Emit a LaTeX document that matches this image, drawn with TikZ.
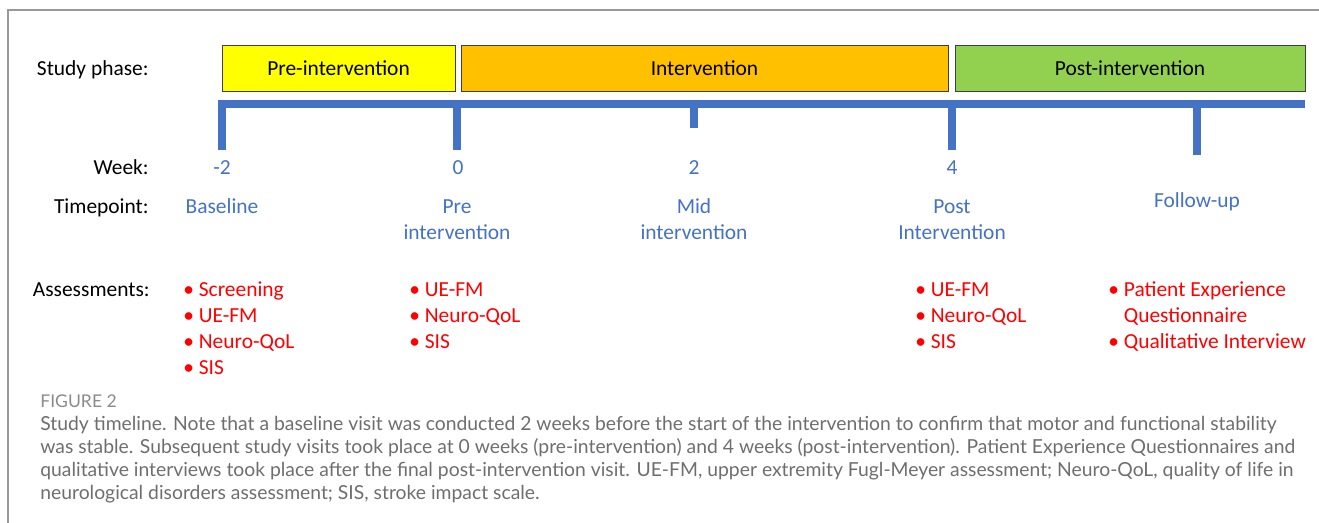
\documentclass[tikz,border=0pt]{standalone}
\usepackage{fontspec}
\setmainfont{Carlito}
\newfontfamily\capfont{Lato}
\definecolor{preyellow}{HTML}{FFFF00}
\definecolor{midorange}{HTML}{FFC000}
\definecolor{postgreen}{HTML}{92D050}
\definecolor{lineblue}{HTML}{4472C4}
\definecolor{listred}{HTML}{FF0000}
\definecolor{capgray}{HTML}{6E6E6E}
\tikzset{
  rowlab/.style={anchor=base east, inner sep=0pt, font=\fontsize{12.2}{14.8}\selectfont},
  phasebox/.style={draw=black!75, minimum height=0.92cm, inner sep=0pt, font=\fontsize{12.2}{14.8}\selectfont},
  axis/.style={lineblue, line width=4pt},
  weeklab/.style={anchor=base, inner sep=0pt, text=lineblue, font=\fontsize{12.2}{14.8}\selectfont},
  tplab/.style={weeklab, align=center},
  asslist/.style={anchor=base west, inner sep=0pt, align=left, text=listred, font=\fontsize{12.2}{14.8}\selectfont},
}
\begin{document}
\begin{tikzpicture}[x=0.02cm, y=-0.02cm]
\useasboundingbox (0,0) rectangle (1319,523);
% frame
\draw [black!40, line width=1pt] (8,523) -- (8,10) -- (1319,10);

% row labels
\node [rowlab] (phaselab) at (149,76) {Study phase:};
\node [rowlab] (weeklab) at (149,175) {Week:};
\node [rowlab] (tplab) at (149,214) {Timepoint:};
\node [rowlab] (asslab) at (150,297) {Assessments:};

% study phases
\node [phasebox, fill=preyellow, minimum width=4.66cm] (pre) at (338.5,68) {Pre-intervention};
\node [phasebox, fill=midorange, minimum width=9.74cm] (mid) at (704.5,68) {Intervention};
\node [phasebox, fill=postgreen, minimum width=7cm] (post) at (1130,68) {Post-intervention};

% timeline
\coordinate (barL) at (222,104);
\coordinate (barR) at (1305,104);
\draw [axis] (222,150) -- (barL) -- (barR);
\foreach \x/\y in {457/150, 694/128, 952/150, 1197/155}
  \draw [axis] (\x,104) -- (\x,\y);

% weeks
\node [weeklab] (wkA) at (222,175) {-2};
\node [weeklab] (wkB) at (458,175) {0};
\node [weeklab] (wkC) at (694,175) {2};
\node [weeklab] (wkD) at (952,175) {4};

% timepoints (base = last line)
\node [tplab] (tpA) at (222,214) {Baseline};
\node [tplab] (tpB) at (457,240) {Pre\\intervention};
\node [tplab] (tpC) at (694,240) {Mid\\intervention};
\node [tplab] (tpD) at (952,240) {Post\\Intervention};
\node [tplab] (tpE) at (1197,208) {Follow-up};

% assessments
\node [asslist] (asA) at (183,375) {\textbullet\ Screening\\\textbullet\ UE-FM\\\textbullet\ Neuro-QoL\\\textbullet\ SIS};
\node [asslist] (asB) at (409,349) {\textbullet\ UE-FM\\\textbullet\ Neuro-QoL\\\textbullet\ SIS};
\node [asslist] (asD) at (915,349) {\textbullet\ UE-FM\\\textbullet\ Neuro-QoL\\\textbullet\ SIS};
\node [asslist] (asE) at (1108,349) {\textbullet\ Patient Experience\\\phantom{\textbullet\ }Questionnaire\\\textbullet\ Qualitative Interview};

% caption
\node [anchor=base west, inner sep=0pt, text=capgray!80, font=\capfont\fontsize{10}{12}\selectfont] (fig) at (40,408) {FIGURE 2};
\node [anchor=base west, inner sep=0pt, align=left, text=capgray, font=\capfont\fontsize{11}{13.1}\selectfont] (cap) at (40,500)
  {Study timeline. Note that a baseline visit was conducted 2 weeks before the start of the intervention to confirm that motor and functional stability\\
   was stable. Subsequent study visits took place at 0 weeks (pre-intervention) and 4 weeks (post-intervention). Patient Experience Questionnaires and\\
   qualitative interviews took place after the final post-intervention visit. UE-FM, upper extremity Fugl-Meyer assessment; Neuro-QoL, quality of life in\\
   neurological disorders assessment; SIS, stroke impact scale.};
\end{tikzpicture}
\end{document}
